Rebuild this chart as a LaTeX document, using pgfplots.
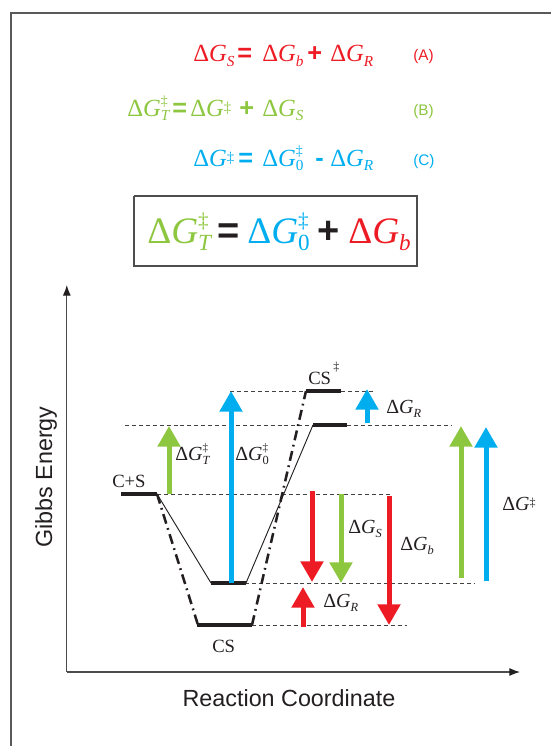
\documentclass[border=0pt]{standalone}
\usepackage{pgfplots}
\pgfplotsset{compat=1.18}
\usepackage{fontspec}
\usepackage{graphicx}
\usetikzlibrary{arrows.meta}
\setmainfont{Liberation Serif}
\newfontfamily\hel{Liberation Sans}

\definecolor{cred}{HTML}{ED1C24}
\definecolor{cgreen}{HTML}{8DC63F}
\definecolor{cblue}{HTML}{00AEEF}
\definecolor{ink}{HTML}{231F20}

% Delta G with sub- and superscripts set from text fonts
\newcommand\dG{Δ\textit{G}}
\newcommand\sbs[1]{\raisebox{-0.2em}{\scalebox{0.62}{\itshape #1}}}
\newcommand\dg{\raisebox{0.16em}{\scalebox{0.6}{‡}}}
\newcommand\dgsb[1]{\makebox[0pt][l]{\raisebox{0.42em}{\scalebox{0.56}{‡}}}\sbs{#1}}

\tikzset{
  eq/.style={anchor=base west, inner sep=0pt, font=\fontsize{18.5}{18.5}\selectfont},
  op/.style={anchor=base west, inner sep=0pt, font=\hel\bfseries\fontsize{19}{19}\selectfont},
  tag/.style={anchor=base west, inner sep=0pt, font=\hel\fontsize{11.5}{11.5}\selectfont},
  big/.style={anchor=base west, inner sep=0pt, font=\fontsize{28}{28}\selectfont},
  bigop/.style={anchor=base west, inner sep=0pt, font=\hel\bfseries\fontsize{28.5}{28.5}\selectfont},
  lab/.style={anchor=base west, inner sep=0pt, text=ink, font=\fontsize{15}{15}\selectfont},
  sp/.style={anchor=base west, inner sep=0pt, text=ink, font=\fontsize{14}{14}\selectfont},
  lvl/.style={draw=ink!85, line width=0.6pt, dash pattern=on 3pt off 2.2pt},
  statebar/.style={draw=ink, line width=3pt},
  thinpath/.style={draw=ink, line width=0.7pt},
  dpath/.style={draw=ink, line width=1.9pt, dash pattern=on 7.5pt off 3.5pt on 1.3pt off 3.5pt},
  arr/.style={line width=3.75pt, -{Triangle[width=16.5pt,length=15.5pt]}},
}

\begin{document}
\begin{tikzpicture}
\begin{axis}[
  scale only axis, width=413.25pt, height=559.5pt,
  xmin=0, xmax=551, ymin=0, ymax=746, y dir=reverse,
  hide axis, clip=false,
]
% frame
\addplot[draw=gray!70!black, line width=1.5pt] coordinates {(10.5,746) (10.5,12.5) (551,12.5)};

% equations (A)-(C)
\node[eq, text=cred] at (axis cs:193,61.5) {\dG\sbs{S}};
\node[op, text=cred] at (axis cs:237,61.5) {=};
\node[eq, text=cred] at (axis cs:262,61.5) {\dG\sbs{b}};
\node[op, text=cred] at (axis cs:307,61.5) {+};
\node[eq, text=cred] at (axis cs:330,61.5) {\dG\sbs{R}};
\node[tag, text=cred] at (axis cs:413,60) {(A)};

\node[eq, text=cgreen] at (axis cs:127,116) {\dG\dgsb{T}};
\node[op, text=cgreen] at (axis cs:172,116) {=};
\node[eq, text=cgreen] at (axis cs:190,116) {\dG\dg};
\node[op, text=cgreen] at (axis cs:239,116) {+};
\node[eq, text=cgreen] at (axis cs:262,116) {\dG\sbs{S}};
\node[tag, text=cgreen] at (axis cs:413,115) {(B)};

\node[eq, text=cblue] at (axis cs:193,166) {\dG\dg};
\node[op, text=cblue] at (axis cs:238,166) {=};
\node[eq, text=cblue] at (axis cs:262,166) {\dG\dgsb{\upshape 0}};
\node[op, text=cblue] at (axis cs:315,166) {-};
\node[eq, text=cblue] at (axis cs:330,166) {\dG\sbs{R}};
\node[tag, text=cblue] at (axis cs:413,165) {(C)};

% boxed relation
\addplot[draw=ink!80, line width=1.2pt] coordinates {(134,196) (417,196) (417,266) (134,266) (134,196)};
\node[big, text=cgreen] at (axis cs:147,243) {\dG\dgsb{T}};
\node[bigop, text=ink] at (axis cs:217,243) {=};
\node[big, text=cblue] at (axis cs:247,243) {\dG\dgsb{\upshape 0}};
\node[bigop, text=ink] at (axis cs:317,243) {+};
\node[big, text=cred] at (axis cs:348,243) {\dG\sbs{b}};

% energy axes
\addplot[draw=gray!60!black, line width=0.8pt, -{Latex[length=8pt,width=6pt,color=ink]}] coordinates {(66.8,672) (66.8,285)};
\addplot[draw=gray!60!black, line width=0.8pt, -{Latex[length=8pt,width=6pt,color=ink]}] coordinates {(66.8,672) (520,672)};
\node[anchor=base, inner sep=0pt, text=ink, font=\hel\fontsize{17.5}{17.5}\selectfont] at (axis cs:289,706) {Reaction Coordinate};
\node[anchor=base, inner sep=0pt, rotate=90, text=ink, font=\hel\fontsize{17.5}{17.5}\selectfont] at (axis cs:52,477) {Gibbs Energy};

% reference levels
\addplot[lvl] coordinates {(230,391) (373,391)};
\addplot[lvl] coordinates {(125,425) (452,425)};
\addplot[lvl] coordinates {(157,494) (390,494)};
\addplot[lvl] coordinates {(245,583) (475,583)};
\addplot[lvl] coordinates {(252,625) (407,625)};

% reaction paths
\addplot[thinpath] coordinates {(157,494) (211,583)};
\addplot[thinpath] coordinates {(246,583) (313,425)};
\addplot[dpath] coordinates {(157,494) (198,625)};
\addplot[dpath] coordinates {(252,625) (306,391)};

% states
\addplot[statebar] coordinates {(121,494) (157,494)};
\addplot[statebar] coordinates {(211,583) (246,583)};
\addplot[statebar] coordinates {(197,625) (252,625)};
\addplot[statebar] coordinates {(313,425) (347,425)};
\addplot[statebar] coordinates {(306,391) (341,391)};

\node[sp] at (axis cs:112,487) {C+S};
\node[sp] at (axis cs:212,652) {CS};
\node[sp] at (axis cs:308,384) {CS};
\node[anchor=base west, inner sep=0pt, text=ink, font=\fontsize{9}{9}\selectfont] at (axis cs:333,370.5) {‡};

% energy differences
\addplot[arr, draw=cgreen] coordinates {(169,494) (169,426)};
\addplot[arr, draw=cgreen] coordinates {(341,494) (341,583)};
\addplot[arr, draw=cgreen] coordinates {(461,578) (461,426)};
\addplot[arr, draw=cblue] coordinates {(231,583) (231,391)};
\addplot[arr, draw=cblue] coordinates {(367,423) (367,389)};
\addplot[arr, draw=cblue] coordinates {(486,581) (486,427)};
\addplot[arr, draw=cred] coordinates {(312,491) (312,582)};
\addplot[arr, draw=cred] coordinates {(303,627) (303,587)};
\addplot[arr, draw=cred] coordinates {(389,496) (389,625)};

\node[lab] at (axis cs:175,460) {\dG\dgsb{T}};
\node[lab] at (axis cs:235,460) {\dG\dgsb{\upshape 0}};
\node[lab] at (axis cs:386,413) {\dG\sbs{R}};
\node[lab] at (axis cs:348,533) {\dG\sbs{S}};
\node[lab] at (axis cs:400,550) {\dG\sbs{b}};
\node[lab] at (axis cs:323,607) {\dG\sbs{R}};
\node[lab] at (axis cs:502,510) {\dG\dg};
\end{axis}
\pgfresetboundingbox
\path[use as bounding box] (current axis.south west) rectangle (current axis.north east);
\end{tikzpicture}
\end{document}
